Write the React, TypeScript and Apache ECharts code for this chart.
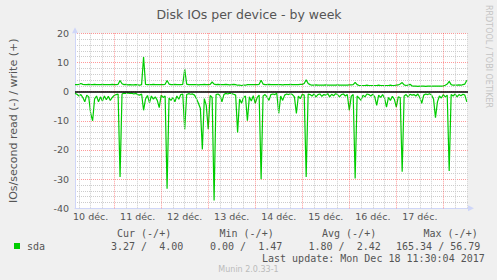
import React, { useEffect, useRef } from "react";
import * as echarts from "echarts";

// ---- data (x in hours after 10 déc. 00:00, one sample per hour) ----
const firstSampleHour = 4;
const axisEndHour = 204.6;

const dayLabels = ["10 déc.", "11 déc.", "12 déc.", "13 déc.", "14 déc.", "15 déc.", "16 déc.", "17 déc."];
const dayLabelHours = [12, 36, 60, 84, 108, 132, 156, 180];
const dayBoundaryHours = [24, 48, 72, 96, 120, 144, 168, 192];

// write IOs/s (+)
const writeIOs = [
  2.4, 2.4, 2.5, 2.8, 2.5, 2.4, 2.4, 2.5, 2.4, 2.4,
  2.5, 2.4, 2.4, 2.4, 2.5, 2.4, 2.4, 2.4, 2.4, 2.5,
  2.4, 2.4, 2.5, 3.8, 2.7, 2.4, 2.5, 2.3, 2.4, 2.3,
  2.3, 2.4, 2.3, 2.2, 2.4, 11.9, 2.5, 2.4, 2.4, 2.4,
  2.5, 2.4, 2.4, 2.4, 2.4, 2.4, 2.5, 3.8, 2.6, 2.4,
  2.4, 2.5, 2.4, 2.4, 2.4, 2.5, 7.7, 2.6, 2.4, 2.4,
  2.4, 2.4, 2.4, 2.3, 2.4, 2.4, 2.5, 2.4, 2.4, 2.5,
  3.3, 2.6, 2.4, 2.5, 2.4, 2.4, 2.4, 2.5, 2.4, 2.3,
  2.4, 2.5, 2.4, 2.2, 2.2, 2.1, 2.2, 2.2, 2.4, 2.4,
  2.4, 2.4, 2.4, 2.4, 2.5, 3.9, 2.6, 2.4, 2.4, 2.5,
  2.4, 2.4, 2.4, 2.4, 2.4, 2.4, 2.3, 2.4, 2.4, 2.4,
  2.5, 2.4, 2.4, 2.4, 2.4, 2.5, 2.5, 2.8, 4.1, 2.8,
  2.4, 2.2, 2.2, 2.3, 2.2, 2.2, 2.2, 2.2, 2.3, 2.2,
  2.2, 2.2, 2.2, 2.2, 2.3, 2.2, 2.2, 2.2, 2.2, 2.2,
  2.3, 2.3, 2.4, 3.2, 2.4, 2.1, 2.1, 2.1, 2.1, 2.2,
  2.1, 2.1, 2.1, 2.1, 2.1, 2.2, 2.1, 2.1, 2.1, 2.1,
  2.1, 2.2, 2.1, 2.1, 2.2, 2.3, 2.6, 3.1, 2.3, 2.1,
  2.2, 2.5, 2.0, 1.9, 1.9, 1.8, 1.9, 1.9, 1.9, 1.8,
  1.9, 1.9, 1.9, 1.9, 1.9, 1.9, 1.9, 1.9, 2.0, 2.2,
  2.6, 3.5, 2.4, 2.2, 2.2, 2.2, 2.3, 2.2, 2.4, 2.6,
  3.9,
];

// read IOs/s (-)
const readIOs = [
  -0.6, -0.9, -1.5, -1.0, -2.0, -3.5, -1.2, -1.8, -7.5, -10.0,
  -2.5, -1.5, -3.5, -1.8, -3.2, -1.5, -2.8, -1.6, -3.0, -2.0,
  -1.3, -1.0, -0.8, -29.3, -0.8, -0.5, -0.6, -0.4, -0.6, -0.5,
  -0.8, -0.6, -1.0, -1.2, -0.8, -6.4, -2.5, -1.3, -3.8, -1.5,
  -2.6, -1.8, -3.0, -5.5, -1.2, -2.0, -1.5, -33.3, -2.2, -3.0,
  -2.0, -3.5, -1.5, -2.6, -1.0, -0.8, -13.0, -1.0, -0.7, -0.9,
  -0.8, -1.2, -2.4, -4.0, -5.8, -19.8, -2.4, -4.7, -12.9, -1.3,
  -2.0, -37.3, -1.0, -0.8, -1.3, -3.5, -1.0, -0.6, -0.8, -0.5,
  -0.7, -0.9, -1.2, -14.0, -2.5, -4.0, -2.0, -1.5, -10.0, -1.8,
  -3.2, -1.4, -4.0, -2.0, -1.2, -30.0, -1.5, -1.0, -1.8, -3.0,
  -1.0, -0.8, -1.0, -0.6, -7.5, -1.5, -3.0, -1.2, -0.8, -1.0,
  -0.7, -1.0, -1.8, -7.5, -1.5, -2.4, -0.9, -1.2, -29.3, -0.8,
  -1.0, -1.5, -0.8, -1.8, -1.0, -0.8, -1.6, -1.0, -1.2, -0.7,
  -1.8, -0.9, -1.4, -0.7, -1.0, -1.8, -1.0, -0.8, -1.5, -1.0,
  -6.4, -1.6, -1.0, -29.8, -1.5, -2.2, -3.0, -1.2, -1.8, -0.8,
  -1.0, -1.5, -0.9, -1.8, -4.7, -1.2, -2.0, -1.0, -2.2, -5.3,
  -2.0, -3.0, -1.6, -2.6, -5.3, -1.8, -2.0, -27.5, -1.5, -1.0,
  -1.8, -0.9, -1.2, -1.0, -1.5, -0.8, -2.0, -4.0, -1.2, -0.8,
  -1.0, -0.7, -1.2, -2.5, -8.9, -3.5, -1.5, -2.2, -1.0, -1.8,
  -1.2, -27.2, -1.0, -1.5, -0.8, -1.8, -1.0, -1.4, -0.9, -1.2,
  -3.5,
];

const legendHeaders = ["Cur (-/+)", "Min (-/+)", "Avg (-/+)", "Max (-/+)"];
const legendValues = ["3.27 /  4.00", "0.00 /  1.47", "1.80 /  2.42", "165.34 / 56.79"];
const seriesName = "sda";
const titleText = "Disk IOs per device - by week";
const yAxisTitle = "IOs/second read (-) / write (+)";
const lastUpdate = "Last update: Mon Dec 18 11:30:04 2017";
const footer = "Munin 2.0.33-1";
const watermark = "RRDTOOL / TOBI OETIKER";

// ---- layout ----
const W = 497;
const H = 280;
const headerX = [117, 219.5, 322, 423.5];
const valueX = [111, 210, 308.5, 396];
const TEXT = "#555555";
const GREEN = "#00cc00";
const MONO = "'DejaVu Sans Mono', monospace";
const SANS = "'DejaVu Sans', sans-serif";

function txt(text: string, x: number, y: number, font: string, fill: string, align = "left", extra: any = {}) {
  return {
    type: "text",
    x,
    y,
    silent: true,
    ...extra,
    style: {
      text,
      font,
      fill,
      align,
      textAlign: align,
      verticalAlign: "middle",
      textVerticalAlign: "middle",
    },
  };
}

export default function App() {
  const ref = useRef<HTMLDivElement>(null);

  useEffect(() => {
    if (!ref.current) return;
    const chart = echarts.init(ref.current, undefined, { renderer: "svg" });

    const writeData = writeIOs.map((v, i) => [firstSampleHour + i, v]);
    const readData = readIOs.map((v, i) => [firstSampleHour + i, v]);

    const minorHours: number[] = [];
    for (let h = 6; h < axisEndHour; h += 6) {
      if (h % 24 !== 0) minorHours.push(h);
    }

    const gridLines = [
      ...minorHours.map((h) => ({
        xAxis: h,
        lineStyle: { color: "#cccccc", type: [1, 1], width: 1 },
      })),
      ...dayBoundaryHours.map((h) => ({
        xAxis: h,
        lineStyle: { color: "rgba(255,0,0,0.4)", type: [1, 1], width: 1 },
      })),
    ];

    const graphic: any[] = [
      txt(titleText, 249, 14, `12.5px ${SANS}`, TEXT, "center"),
      txt(watermark, 488.5, 56.5, `8px ${SANS}`, "#c4c4c4", "center", { rotation: -Math.PI / 2 }),
      {
        type: "rect",
        silent: true,
        shape: { x: 14, y: 243, width: 6, height: 6 },
        style: { fill: GREEN },
      },
      txt(seriesName, 27, 246, `10px ${MONO}`, TEXT),
      ...legendHeaders.map((t, i) => txt(t, headerX[i], 233.5, `10px ${MONO}`, TEXT)),
      ...legendValues.map((t, i) => txt(t, valueX[i], 246, `10px ${MONO}`, TEXT)),
      txt(lastUpdate, 262, 258, `10px ${MONO}`, TEXT),
      txt(footer, 248.5, 269.5, `8px ${SANS}`, "#bbbbbb", "center"),
    ];

    chart.setOption({
      animation: false,
      backgroundColor: "#f0f0f0",
      grid: {
        left: 66,
        top: 33.3,
        width: 402,
        height: 175,
        show: true,
        backgroundColor: "#ffffff",
        borderWidth: 0,
        containLabel: false,
      },
      xAxis: {
        type: "value",
        min: firstSampleHour,
        max: axisEndHour,
        axisLine: {
          show: true,
          onZero: false,
          lineStyle: { color: "#CFD6F8", width: 1 },
          symbol: ["none", "triangle"],
          symbolSize: [6, 6],
          symbolOffset: [0, 3],
        },
        axisTick: { show: false },
        splitLine: { show: false },
        axisLabel: {
          customValues: dayLabelHours,
          formatter: (v: number) => {
            const k = dayLabelHours.indexOf(Math.round(v));
            return k >= 0 ? dayLabels[k] : "";
          },
          color: TEXT,
          fontSize: 9.5,
          fontFamily: SANS,
          margin: 3,
        },
      },
      yAxis: {
        type: "value",
        min: -40,
        max: 20,
        interval: 10,
        name: yAxisTitle,
        nameLocation: "middle",
        nameRotate: 90,
        nameGap: 56,
        nameTextStyle: { color: TEXT, fontSize: 11, fontFamily: SANS },
        axisLine: {
          show: true,
          onZero: false,
          lineStyle: { color: "#CFD6F8", width: 1 },
          symbol: ["none", "triangle"],
          symbolSize: [6, 6],
          symbolOffset: [0, 3],
        },
        axisTick: { show: false },
        axisLabel: {
          color: TEXT,
          fontSize: 9.5,
          fontFamily: SANS,
          margin: 6,
        },
        splitLine: {
          show: true,
          lineStyle: { color: "rgba(255,0,0,0.4)", type: [1, 1], width: 1 },
        },
        minorTick: { show: false, splitNumber: 5 },
        minorSplitLine: {
          show: true,
          lineStyle: { color: "#cccccc", type: [1, 1], width: 1 },
        },
      },
      series: [
        {
          type: "line",
          data: [],
          silent: true,
          z: 1,
          markLine: {
            silent: true,
            symbol: ["none", "none"],
            label: { show: false },
            data: gridLines,
          },
        },
        {
          type: "line",
          name: "read",
          data: readData,
          symbol: "none",
          showSymbol: false,
          silent: true,
          z: 3,
          lineStyle: { color: GREEN, width: 1.2 },
        },
        {
          type: "line",
          name: "write",
          data: writeData,
          symbol: "none",
          showSymbol: false,
          silent: true,
          z: 3,
          lineStyle: { color: GREEN, width: 1.2 },
        },
        {
          type: "line",
          data: [],
          silent: true,
          z: 4,
          markLine: {
            silent: true,
            symbol: ["none", "none"],
            label: { show: false },
            lineStyle: { color: "#000000", type: "solid", width: 1.5 },
            data: [{ yAxis: 0 }],
          },
        },
      ],
      graphic,
    });

    return () => {
      chart.dispose();
    };
  }, []);

  return (
    <div
      ref={ref}
      style={{ position: "fixed", left: 0, top: 0, width: W, height: H, background: "#f0f0f0" }}
    />
  );
}
